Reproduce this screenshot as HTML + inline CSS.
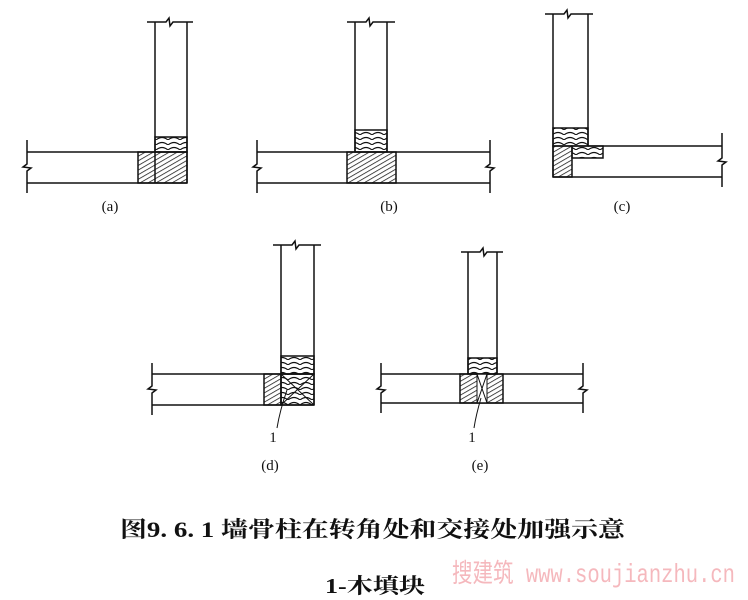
<!DOCTYPE html>
<html><head><meta charset="utf-8"><style>
body{margin:0;background:#fff;width:748px;height:600px;overflow:hidden}
svg{display:block}
</style></head><body>
<svg width="748" height="600" viewBox="0 0 748 600" xmlns="http://www.w3.org/2000/svg">
<defs>
<pattern id="h" width="4" height="4" patternUnits="userSpaceOnUse" patternTransform="rotate(60)">
<line x1="0" y1="0" x2="0" y2="4" stroke="#111" stroke-width="1.5"/>
</pattern>
<pattern id="arc" width="12" height="5" patternUnits="userSpaceOnUse">
<path d="M0 5 Q6 0 12 5" fill="none" stroke="#111" stroke-width="1.2"/>
</pattern>
</defs>
<g stroke="#111" stroke-width="1.5" fill="none">
<!-- (a) -->
<path d="M147 22H166l3-4 1 8 3-4H193"/>
<path d="M155 22V183M187 22V183"/>
<rect x="155" y="137" width="32" height="15" fill="url(#arc)"/>
<rect x="138" y="152" width="49" height="31" fill="url(#h)"/>
<path d="M27 152H187M27 183H187"/>
<path d="M27 140V164l-4 3 8 1-4 3V193"/>
<!-- (b) -->
<path d="M347 22H366l3-4 1 8 3-4H395"/>
<path d="M355 22V152M387 22V152"/>
<rect x="355" y="130" width="32" height="22" fill="url(#arc)"/>
<rect x="347" y="152" width="49" height="31" fill="url(#h)"/>
<path d="M257 152H490M257 183H490"/>
<path d="M257 140V164l-4 3 8 1-4 3V193M490 140V164l-4 3 8 1-4 3V193"/>
<!-- (c) -->
<path d="M545 14H564l3-4 1 8 3-4H593"/>
<path d="M553 14V177M588 14V146"/>
<rect x="553" y="128" width="35" height="18" fill="url(#arc)"/>
<rect x="553" y="146" width="19" height="31" fill="url(#h)"/>
<rect x="572" y="146" width="31" height="12" fill="url(#arc)"/>
<path d="M588 146H722M553 177H722"/>
<path d="M722 133V158l-4 3 8 1-4 3V187"/>
<!-- (d) -->
<path d="M273 245H292l3-4 1 8 3-4H321"/>
<path d="M281 245V405M314 245V405"/>
<rect x="281" y="356" width="33" height="18" fill="url(#arc)"/>
<rect x="264" y="374" width="17" height="31" fill="url(#h)"/>
<rect x="281" y="374" width="33" height="31" fill="url(#arc)"/>
<path d="M281 374L314 405M314 374L281 405" stroke-width="1"/>
<path d="M152 374H314M152 405H314"/>
<path d="M152 363V386l-4 3 8 1-4 3V415"/>
<path d="M287 390Q280 410 277 428" stroke-width="1"/>
<!-- (e) -->
<path d="M461 252H480l3-4 1 8 3-4H503"/>
<path d="M468 252V374M497 252V374"/>
<rect x="468" y="358" width="29" height="16" fill="url(#arc)"/>
<rect x="460" y="374" width="43" height="29" fill="url(#h)"/>
<rect x="477" y="374" width="10" height="29" fill="#fff" stroke-width="1"/>
<path d="M477 374L487 403M487 374L477 403" stroke-width="1"/>
<path d="M381 374H583M381 403H583"/>
<path d="M381 363V386l-4 3 8 1-4 3V413M583 363V386l-4 3 8 1-4 3V413"/>
<path d="M481 398Q476 415 474 428" stroke-width="1"/>
</g>
<g font-family="Liberation Serif, serif" font-size="15" fill="#111" text-anchor="middle">
<text x="110" y="211">(a)</text>
<text x="389" y="211">(b)</text>
<text x="622" y="211">(c)</text>
<text x="273" y="442">1</text>
<text x="270" y="470">(d)</text>
<text x="472" y="442">1</text>
<text x="480" y="470">(e)</text>
</g>
<text x="120" y="537" textLength="505" lengthAdjust="spacingAndGlyphs" font-family="Liberation Serif, 'Noto Serif CJK SC', serif" font-weight="bold" font-size="22" fill="#111">图9. 6. 1 墙骨柱在转角处和交接处加强示意</text>
<text x="452" y="582" textLength="283" lengthAdjust="spacingAndGlyphs" font-family="Liberation Mono, 'Noto Sans CJK SC', monospace" font-size="26" fill="#f5b8bd">搜建筑 www.soujianzhu.cn</text>
<text x="325" y="593" textLength="100" lengthAdjust="spacingAndGlyphs" font-family="Liberation Serif, 'Noto Serif CJK SC', serif" font-weight="bold" font-size="21" fill="#111">1-木填块</text>
</svg>
</body></html>
